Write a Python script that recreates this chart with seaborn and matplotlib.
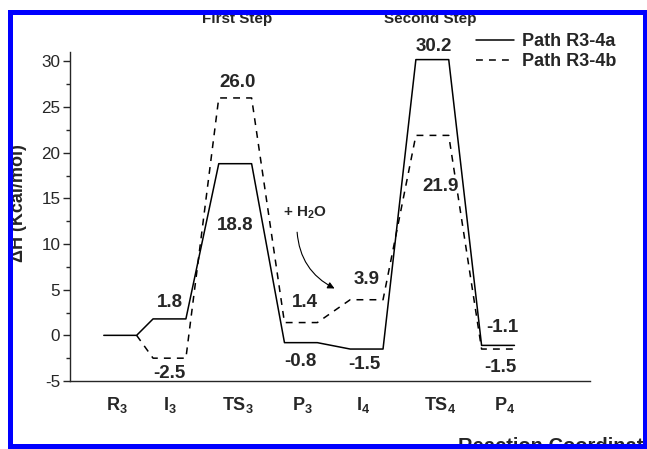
import matplotlib
matplotlib.use("Agg")
import matplotlib.pyplot as plt
import seaborn as sns
import pandas as pd
import numpy as np
from matplotlib.patches import Rectangle
from matplotlib.ticker import MultipleLocator

# ---- data ----
states = ["R3", "I3", "TS3", "P3", "I4", "TS4", "P4"]
tick_labels = [r"$\mathbf{R}_\mathbf{3}$", r"$\mathbf{I}_\mathbf{3}$", r"$\mathbf{TS}_\mathbf{3}$",
               r"$\mathbf{P}_\mathbf{3}$", r"$\mathbf{I}_\mathbf{4}$", r"$\mathbf{TS}_\mathbf{4}$",
               r"$\mathbf{P}_\mathbf{4}$"]
path_a = [0.0, 1.8, 18.8, -0.8, -1.5, 30.2, -1.1]
path_b = [0.0, -2.5, 26.0, 1.4, 3.9, 21.9, -1.5]
label_a = ["", "1.8", "18.8", "-0.8", "-1.5", "30.2", "-1.1"]
label_b = ["", "-2.5", "26.0", "1.4", "3.9", "21.9", "-1.5"]

# ---- layout / style ----
W, H = 647, 449
centers = [0.25, 1, 2, 3, 4, 5, 6]
half = 0.25
tick_pos = [0.2, 1.0, 2.04, 3.03, 3.95, 5.12, 6.1]
pos_a = [None, (1.0, 3.6), (2.0, 12.0), (3.0, -2.9), (3.97, -3.2), (5.03, 31.6), (6.06, 0.85)]
pos_b = [None, (1.0, -4.2), (2.03, 27.7), (3.06, 3.6), (4.0, 6.1), (5.12, 16.3), (6.03, -3.5)]

sns.set_style("ticks")
plt.rcParams["font.family"] = ["Liberation Sans", "DejaVu Sans"]
plt.rcParams["mathtext.fontset"] = "custom"
plt.rcParams["mathtext.bf"] = "Liberation Sans:bold"
plt.rcParams["mathtext.rm"] = "Liberation Sans"
plt.rcParams["axes.unicode_minus"] = False


def expand(vals):
    xs, ys = [], []
    for c, v in zip(centers, vals):
        xs += [c - half, c + half]
        ys += [v, v]
    return pd.DataFrame({"x": xs, "y": ys, "order": range(len(xs))})


fig = plt.figure(figsize=(W / 100, H / 100), dpi=100)
fig.patch.set_facecolor("white")
ax = fig.add_axes([70 / W, 1 - 381 / H, 520 / W, (381 - 52.3) / H])

da = expand(path_a)
db = expand(path_b).iloc[1:]   # dashed path leaves from the end of the shared R3 level
sns.lineplot(data=da, x="x", y="y", sort=False, ax=ax, color="black", lw=1.1,
             label="Path R3-4a", estimator=None)
sns.lineplot(data=db, x="x", y="y", sort=False, ax=ax, color="black", lw=1.1,
             label="Path R3-4b", estimator=None)
ax.lines[1].set_dashes([4.5, 4])

ax.set_xlim(-0.514, 7.4)
ax.set_ylim(-5, 31)
ax.yaxis.set_major_locator(MultipleLocator(5))
ax.yaxis.set_minor_locator(MultipleLocator(2.5))
ax.set_xticks(tick_pos)
ax.set_xticklabels(tick_labels, fontsize=13)
ax.tick_params(axis="x", length=0, pad=10)
ax.tick_params(axis="y", which="major", length=5, width=1, labelsize=12.3, pad=2)
ax.tick_params(axis="y", which="minor", length=3, width=1)
ax.set_xlabel("")
ax.set_ylabel("")
sns.despine(ax=ax)
for s in ["left", "bottom"]:
    ax.spines[s].set_linewidth(1)

for lab, p in zip(label_a, pos_a):
    if p:
        ax.text(p[0], p[1], lab, ha="center", va="center", fontsize=13.5, fontweight="bold")
for lab, p in zip(label_b, pos_b):
    if p:
        ax.text(p[0], p[1], lab, ha="center", va="center", fontsize=13.5, fontweight="bold")

leg = ax.legend(loc="upper left", bbox_to_anchor=(476 / W, 1 - 33 / H),
                bbox_transform=fig.transFigure, frameon=False, borderpad=0,
                borderaxespad=0, handlelength=2.1, handletextpad=0.45,
                labelspacing=0.16, prop={"weight": "bold", "size": 13})
leg.get_lines()[1].set_dashes([4.5, 4])

# "+ H2O" annotation with curved arrow
ax.text(3.06, 13.4, r"+ H$_\mathbf{2}$O", ha="center", va="center", fontsize=11,
        fontweight="bold")
ax.annotate("", xy=(3.55, 5.0), xytext=(2.94, 11.6),
            arrowprops=dict(arrowstyle="-|>", connectionstyle="arc3,rad=0.3",
                            color="black", lw=0.8, mutation_scale=10))

fig.text(237 / W, 1 - 22.5 / H, "First Step", ha="center", va="baseline",
         fontsize=11, fontweight="bold")
fig.text(430 / W, 1 - 22.5 / H, "Second Step", ha="center", va="baseline",
         fontsize=11, fontweight="bold")
fig.text(19 / W, 1 - 203 / H, "ΔH (Kcal/mol)", ha="center", va="center",
         rotation=90, fontsize=13, fontweight="bold")
fig.text(458 / W, 1 - 437.5 / H, "Reaction Coordinate", ha="left", va="top",
         fontsize=14.5, fontweight="bold")

# blue frame
blue = (0, 0, 1)
def rect(x0, y0, x1, y1):
    fig.add_artist(Rectangle((x0 / W, 1 - y1 / H), (x1 - x0) / W, (y1 - y0) / H,
                             transform=fig.transFigure, color=blue, zorder=10, lw=0))
rect(8, 10, 13, 449)
rect(8, 10, 647, 14.5)
rect(643, 10, 647, 449)
rect(8, 443.5, 647, 449)

fig.savefig("out.png", dpi=100)
